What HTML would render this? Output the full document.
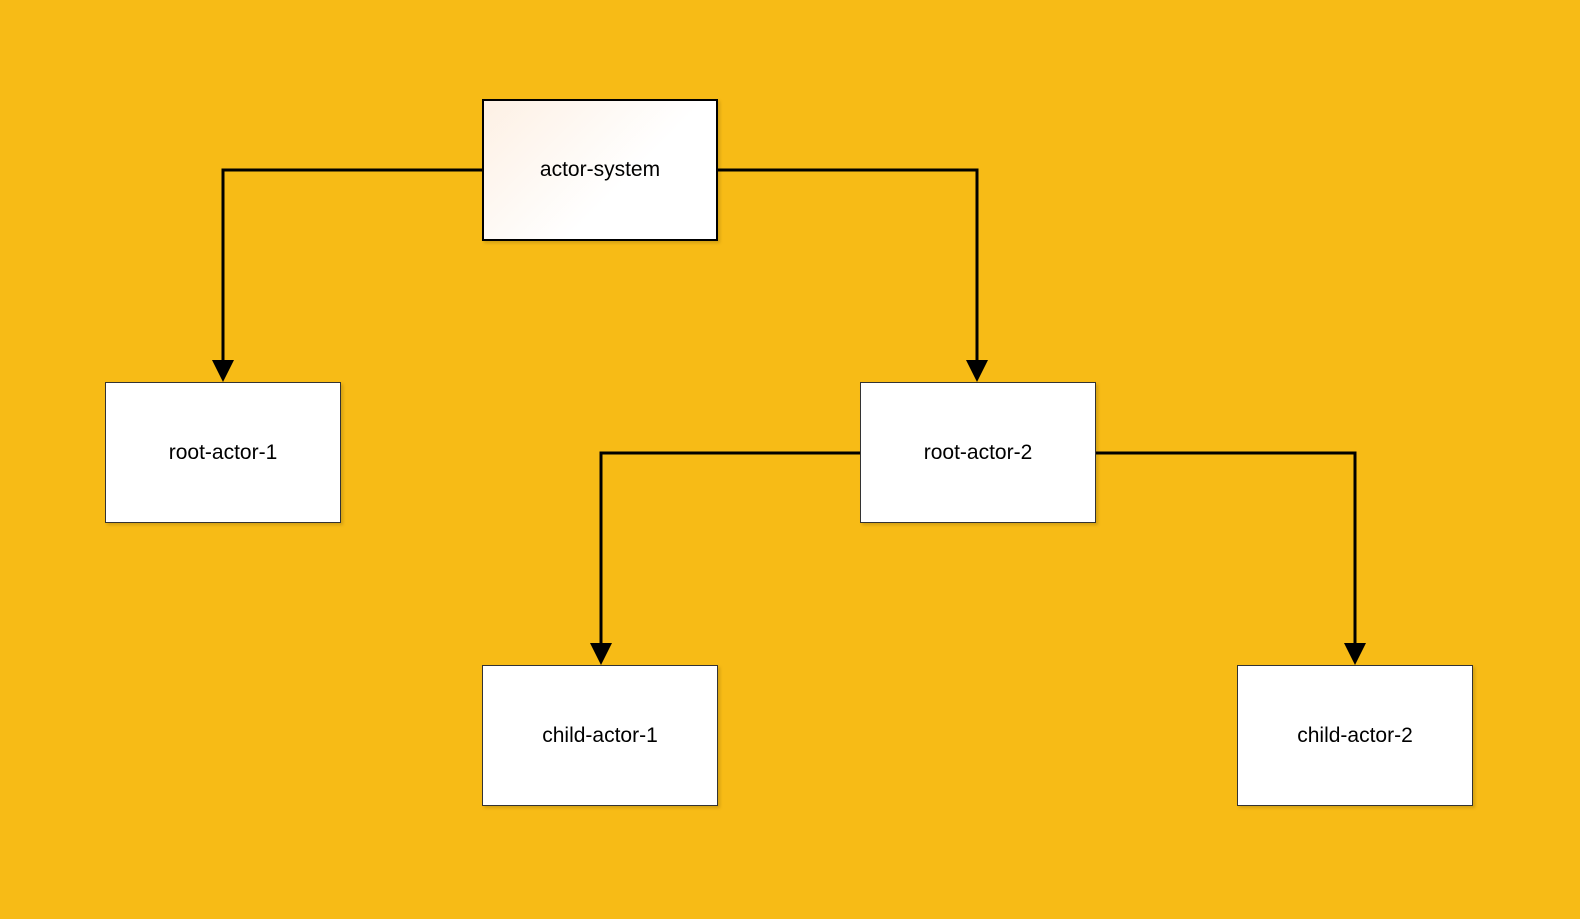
<!DOCTYPE html>
<html><head><meta charset="utf-8"><style>
html,body{margin:0;padding:0;}
body{width:1580px;height:919px;background:#F7BB16;position:relative;overflow:hidden;font-family:"Liberation Sans",sans-serif;}
.b{position:absolute;width:236px;height:141px;background:#fff;border:1px solid #333;box-sizing:border-box;display:flex;align-items:center;justify-content:center;font-size:21px;color:#000;box-shadow:2px 2px 3px rgba(0,0,0,0.15);}
svg{position:absolute;left:0;top:0;}
</style></head><body>
<svg width="1580" height="919">
<g stroke="#000" stroke-width="3" fill="none">
<polyline points="482,170 223,170 223,361"/>
<polyline points="718,170 977,170 977,361"/>
<polyline points="860,453 601,453 601,644"/>
<polyline points="1095,453 1355,453 1355,644"/>
</g>
<g fill="#000">
<polygon points="212,360 234,360 223,382"/>
<polygon points="966,360 988,360 977,382"/>
<polygon points="590,643 612,643 601,665"/>
<polygon points="1344,643 1366,643 1355,665"/>
</g>
</svg>
<div class="b" style="left:482px;top:99px;height:142px;border:2px solid #000;background:linear-gradient(135deg,#fdf0e4,#fff 60%);">actor-system</div>
<div class="b" style="left:105px;top:382px;">root-actor-1</div>
<div class="b" style="left:860px;top:382px;">root-actor-2</div>
<div class="b" style="left:482px;top:665px;">child-actor-1</div>
<div class="b" style="left:1237px;top:665px;">child-actor-2</div>
</body></html>
